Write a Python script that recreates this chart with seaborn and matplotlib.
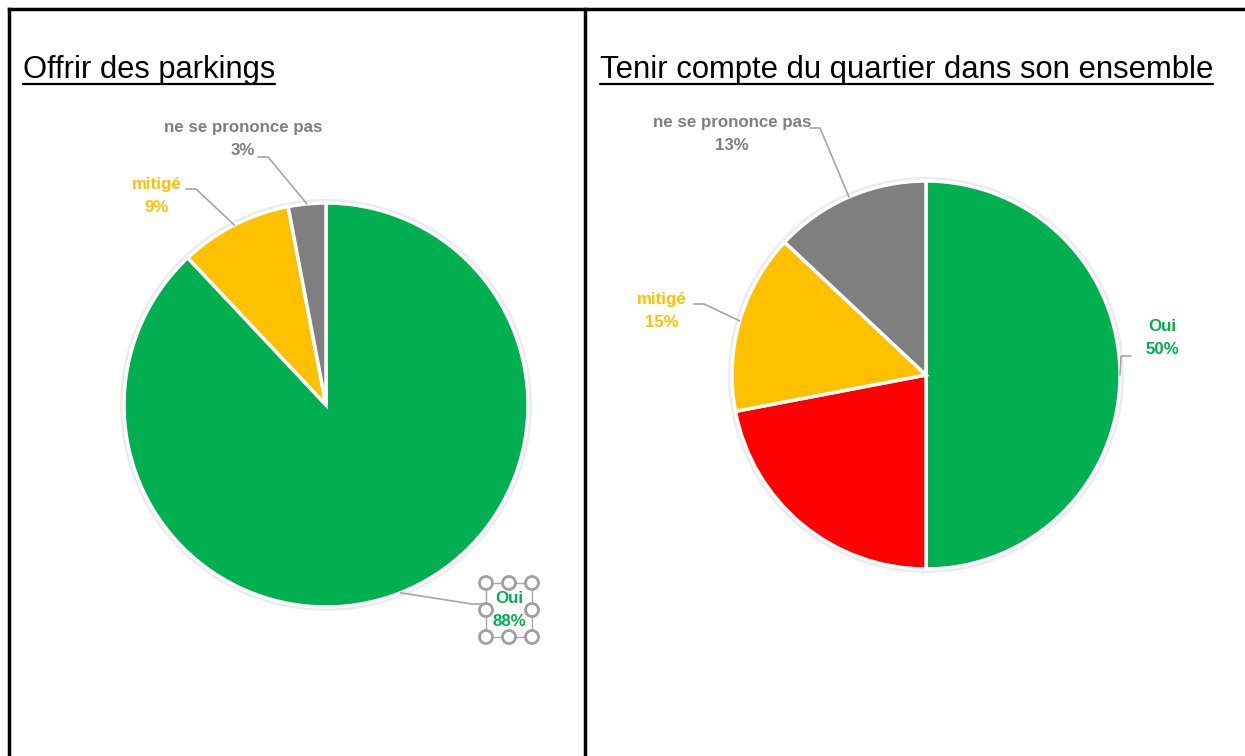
import matplotlib
matplotlib.use("Agg")
import matplotlib.pyplot as plt
import seaborn as sns
import numpy as np
from matplotlib.patches import Circle, Rectangle

sns.set_theme(style="white")
plt.rcParams['font.family'] = ['Liberation Sans Narrow', 'Liberation Sans', 'DejaVu Sans']

# ---- data ----
left_title = "Offrir des parkings"
left_labels = ["Oui", "mitigé", "ne se prononce pas"]
left_values = [88, 9, 3]
left_colors = ["#00B050", "#FFC000", "#7F7F7F"]

right_title = "Tenir compte du quartier dans son ensemble"
right_labels = ["Oui", "", "mitigé", "ne se prononce pas"]
right_values = [50, 22, 15, 13]
right_colors = ["#00B050", "#FF0000", "#FFC000", "#7F7F7F"]

W, H = 1245, 756
fig = plt.figure(figsize=(W / 100, H / 100), dpi=100)
ax = fig.add_axes([0, 0, 1, 1])


def py(y):
    return H - y


def draw_pie(values, colors, labels, cx, cy, r, label_pos):
    # soft shadow
    ax.add_patch(Circle((cx, py(cy)), r + 4, color="#ececec", zorder=1, lw=0))
    ax.add_patch(Circle((cx, py(cy)), r + 2, color="#dcdcdc", zorder=1, lw=0, alpha=0.6))
    wedges, _ = ax.pie(values, colors=colors, startangle=90, counterclock=False,
                       center=(cx, py(cy)), radius=r,
                       wedgeprops=dict(edgecolor="white", linewidth=2.5, zorder=2),
                       normalize=True)
    for w, lab, col, pos in zip(wedges, labels, colors, label_pos):
        if not lab or pos is None:
            continue
        mid = np.deg2rad((w.theta1 + w.theta2) / 2)
        ax_x = cx + r * np.cos(mid)
        ax_y = py(cy) + r * np.sin(mid)
        pct = round((w.theta2 - w.theta1) / 3.6)
        (tx, ty, lx, ly, ha) = pos
        ax.plot([lx, lx + (10 if ha == 'right' else -10), ax_x],
                [py(ly), py(ly), ax_y], color="#A6A6A6", lw=1.2, zorder=3)
        ax.text(tx, py(ty), f"{lab}\n{pct}%", color=col, fontsize=12.2,
                fontweight="bold", ha="center", va="center", linespacing=1.6,
                zorder=4)


# left pie: label text center x,y ; leader start x,y ; side
draw_pie(left_values, left_colors, left_labels, 326, 405, 202,
         [(509, 610, 482, 604, 'left'),
          (157, 196, 186, 189, 'right'),
          (243, 139, 258, 157, 'right')])

# selection handles around "Oui 88%"
hx = [486, 509, 532]
hy = [583, 610, 637]
ax.add_patch(Rectangle((hx[0], py(hy[2])), hx[2] - hx[0], hy[2] - hy[0],
                       fill=False, ec="#A6A6A6", lw=1, zorder=3))
for xx in hx:
    for yy in hy:
        if xx == hx[1] and yy == hy[1]:
            continue
        ax.add_patch(Circle((xx, py(yy)), 6.5, fc="white", ec="#A0A0A0", lw=2, zorder=5))

draw_pie(right_values, right_colors, right_labels, 926, 375, 194,
         [(1162, 338, 1131, 356, 'left'),
          None,
          (662, 311, 694, 304, 'right'),
          (732, 134, 810, 128, 'right')])

ax.set_xlim(0, W)
ax.set_ylim(0, H)
ax.set_aspect('auto')
ax.axis('off')

# table borders
for (x0, y0, x1, y1) in [(9, 9, W, 9), (9, 9, 9, H), (585, 9, 585, H)]:
    ax.plot([x0, x1], [py(y0), py(y1)], color="black", lw=2.5, zorder=6,
            solid_capstyle='projecting')

# titles with underline, fitted to target width
fig.canvas.draw()
renderer = fig.canvas.get_renderer()
for (tx, title, target_w) in [(23, left_title, 252), (600, right_title, 613)]:
    t = ax.text(tx, py(78), title, fontsize=24, color="black", ha="left",
                va="baseline", zorder=6)
    bb = t.get_window_extent(renderer=renderer)
    t.set_fontsize(24 * target_w / bb.width)
    bb = t.get_window_extent(renderer=renderer)
    ax.plot([bb.x0, bb.x1], [py(84), py(84)], color="black", lw=1.6, zorder=6)

fig.savefig("out.png", dpi=100)
